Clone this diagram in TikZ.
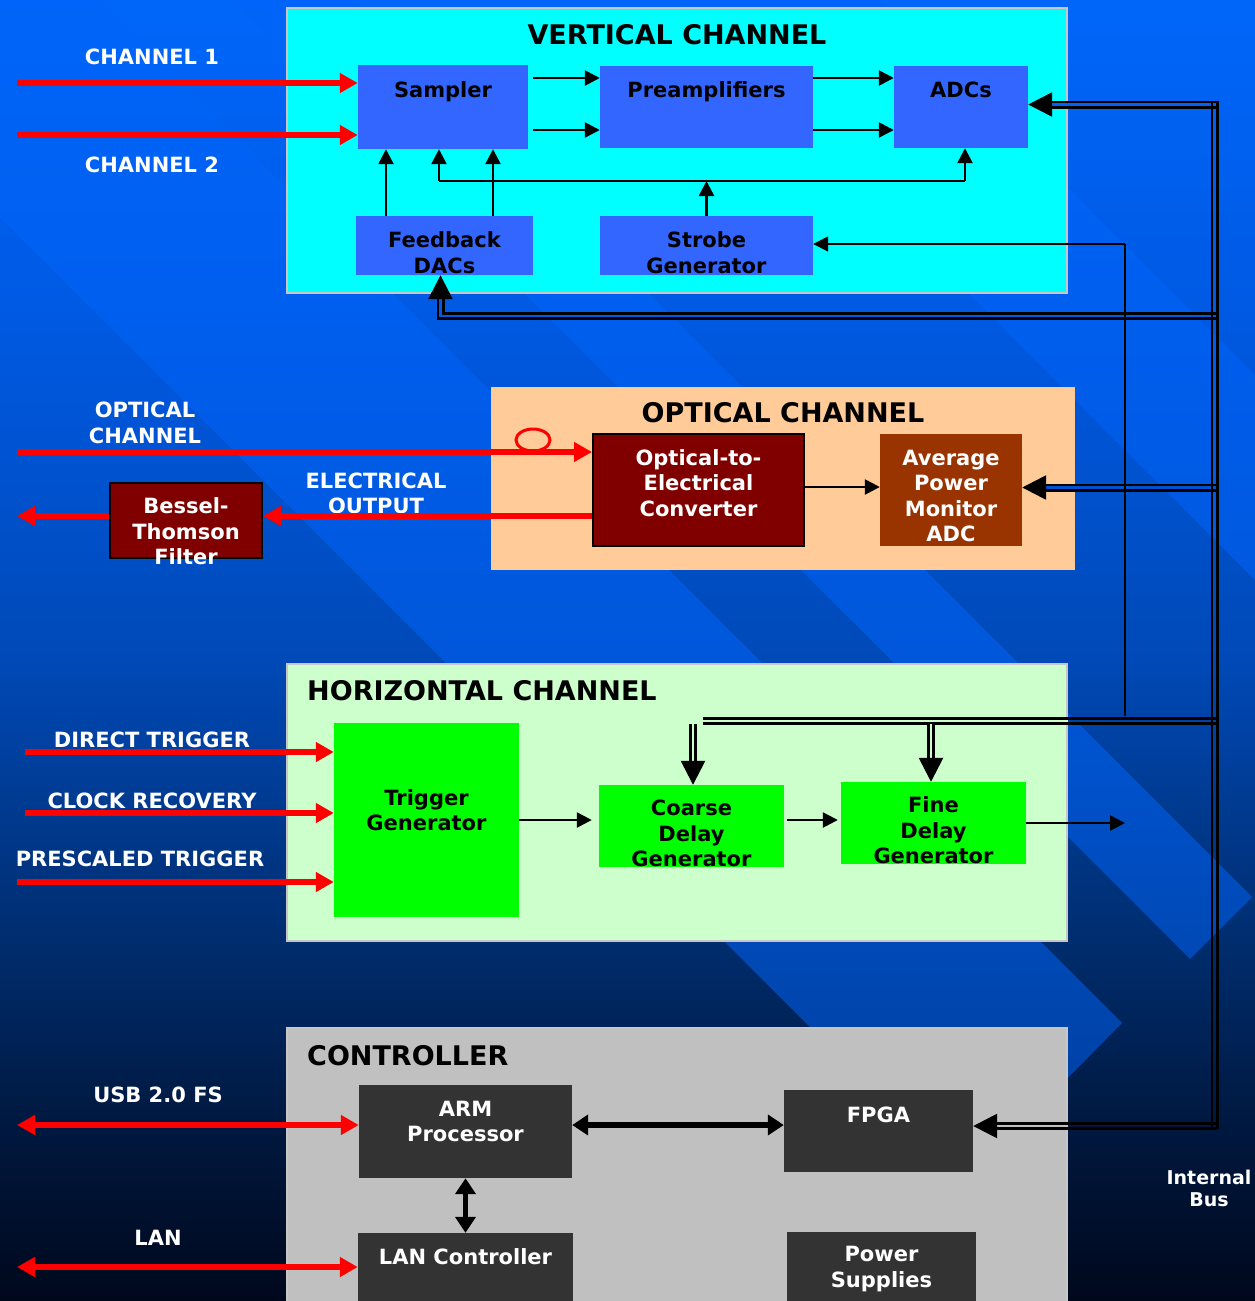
\documentclass[tikz,border=0pt]{standalone}
\usepackage{fontspec}
\setmainfont{DejaVu Sans}
\usepackage{tikz}
\usetikzlibrary{arrows.meta,positioning}

\definecolor{vchfill}{RGB}{0,255,255}
\definecolor{vblock}{RGB}{51,102,255}
\definecolor{ochfill}{RGB}{255,204,153}
\definecolor{maroonbox}{RGB}{128,0,0}
\definecolor{rustbox}{RGB}{153,51,0}
\definecolor{hchfill}{RGB}{204,255,204}
\definecolor{hblock}{RGB}{0,255,0}
\definecolor{ctrlfill}{RGB}{192,192,192}
\definecolor{cblock}{RGB}{51,51,51}
\definecolor{sigred}{RGB}{255,0,0}
\definecolor{stripeblue}{RGB}{0,100,250}
\definecolor{bgk0}{RGB}{0,8,28}
\definecolor{bgk1}{RGB}{0,25,65}
\definecolor{bgk2}{RGB}{0,44,108}
\definecolor{bgk3}{RGB}{0,74,185}
\definecolor{bgk4}{RGB}{0,90,228}
\definecolor{bgk5}{RGB}{0,102,250}
\definecolor{busa}{RGB}{0,99,248}
\definecolor{busb}{RGB}{0,91,230}
\definecolor{busc}{RGB}{0,82,206}
\definecolor{busd}{RGB}{0,67,167}
\definecolor{buse}{RGB}{0,24,64}

\pgfdeclareverticalshading{bgfade}{100bp}{color(0bp)=(bgk0); color(25bp)=(bgk0); color(32bp)=(bgk1); color(38.5bp)=(bgk2); color(50bp)=(bgk3); color(63.5bp)=(bgk4); color(75bp)=(bgk5); color(100bp)=(bgk5)}

\newcommand{\blkfont}{\fontsize{21}{25.5}\selectfont\bfseries}
\newcommand{\hdrfont}{\fontsize{27}{32}\selectfont\bfseries}
\newcommand{\smlfont}{\fontsize{19}{22}\selectfont\bfseries}

\tikzstyle{panel} = [rectangle, inner sep=0pt, draw=black!22, line width=2.5pt]
\tikzstyle{block} = [rectangle, inner sep=0pt]
\tikzstyle{lbl} = [font=\blkfont, align=center, inner sep=0pt]
\tikzstyle{extlbl} = [font=\blkfont, align=center, inner sep=0pt, text=white]
\tikzstyle{hdr} = [font=\hdrfont, inner sep=0pt]
\tikzstyle{sig} = [sigred, line width=5.5pt, -{Triangle[length=18pt,width=19pt]}]
\tikzstyle{sigboth} = [sigred, line width=5.5pt, {Triangle[length=18pt,width=19pt]}-{Triangle[length=18pt,width=19pt]}]
\tikzstyle{arrow} = [line width=2.5pt, -{Triangle[length=15pt,width=15pt]}]
\tikzstyle{wire} = [line width=2.5pt]
\tikzstyle{thinwire} = [line width=1.5pt]
\tikzstyle{thinarrow} = [line width=1.5pt, -{Triangle[length=15pt,width=15pt]}]
\tikzstyle{link} = [line width=5.5pt, {Triangle[length=16pt,width=20pt]}-{Triangle[length=16pt,width=20pt]}]
\tikzstyle{bustip} = [-{Triangle[length=24pt,width=24pt]}]
\tikzstyle{stripe} = [fill=stripeblue, fill opacity=0.52]
\tikzset{bus/.style={draw=black, line width=2.6pt, double=#1, double distance=2.8pt}}

\begin{document}
\begin{tikzpicture}[x=1pt,y=-1pt]
    \useasboundingbox (0,0) rectangle (1255,1301);
    \clip (0,0) rectangle (1255,1301);

    % background
    \shade[shading=bgfade] (0,0) rectangle (1255,1301);
    \fill[stripe] (-217,0) -- (99,0) -- (1122,1023) -- (965,1182) -- cycle;
    \fill[stripe] (231,0) -- (355,0) -- (1252,897) -- (1190,959) -- cycle;
    \fill[stripe] (675,0) -- (880,0) -- (1300,420) -- (1300,625) -- cycle;

    % vertical channel
    \node[panel, fill=vchfill, minimum width=780pt, minimum height=285pt] (vch) at (677,150.5) {};
    \node[hdr] (vch-title) at (677,35) {VERTICAL CHANNEL};
    \node[block, fill=vblock, minimum width=170pt, minimum height=84pt, label={[lbl, yshift=15.5pt]center:Sampler}] (sampler) at (443,107) {};
    \node[block, fill=vblock, minimum width=213pt, minimum height=82pt, label={[lbl, yshift=15.5pt]center:Preamplifiers}] (preamp) at (706.5,107) {};
    \node[block, fill=vblock, minimum width=134pt, minimum height=82pt, label={[lbl, yshift=17pt]center:ADCs}] (adcs) at (961,107) {};
    \node[block, fill=vblock, minimum width=177pt, minimum height=59pt, label={[lbl, yshift=-7pt]center:Feedback\\DACs}] (fbdacs) at (444.5,245.5) {};
    \node[block, fill=vblock, minimum width=213pt, minimum height=59pt, label={[lbl, yshift=-7pt]center:Strobe\\Generator}] (strobe) at (706.5,245.5) {};

    % optical channel
    \node[block, fill=ochfill, minimum width=584pt, minimum height=183pt] (och) at (783,478.5) {};
    \node[hdr] (och-title) at (783,413) {OPTICAL CHANNEL};
    \node[block, fill=maroonbox, draw=black, line width=2pt, minimum width=211pt, minimum height=112pt, label={[lbl, white, yshift=7pt]center:Optical-to-\\Electrical\\Converter}] (oec) at (698.5,490) {};
    \node[block, fill=rustbox, minimum width=142pt, minimum height=112pt, label={[lbl, white, yshift=-6pt]center:Average\\Power\\Monitor\\ADC}] (apm) at (951,490) {};
    \node[block, fill=maroonbox, draw=black, line width=2pt, minimum width=152pt, minimum height=75pt, label={[lbl, white, yshift=-11pt]center:Bessel-\\Thomson\\Filter}] (bessel) at (186,520.5) {};

    % horizontal channel
    \node[panel, fill=hchfill, minimum width=780pt, minimum height=277pt] (hch) at (677,802.5) {};
    \node[hdr, anchor=west] (hch-title) at (307,691) {HORIZONTAL CHANNEL};
    \node[block, fill=hblock, minimum width=185pt, minimum height=194pt, label={[lbl, yshift=10pt]center:Trigger\\Generator}] (trig) at (426.5,820) {};
    \node[block, fill=hblock, minimum width=185pt, minimum height=82pt, label={[lbl, yshift=-7.5pt]center:Coarse\\Delay\\Generator}] (coarse) at (691.5,826) {};
    \node[block, fill=hblock, minimum width=185pt, minimum height=82pt, label={[lbl, yshift=-7.5pt]center:Fine\\Delay\\Generator}] (fine) at (933.5,823) {};

    % controller
    \node[panel, fill=ctrlfill, minimum width=780pt, minimum height=312pt] (ctrl) at (677,1184) {};
    \node[hdr, anchor=west] (ctrl-title) at (307,1056) {CONTROLLER};
    \node[block, fill=cblock, minimum width=213pt, minimum height=93pt, label={[lbl, white, yshift=10pt]center:ARM\\Processor}] (arm) at (465.5,1131.5) {};
    \node[block, fill=cblock, minimum width=189pt, minimum height=82pt, label={[lbl, white, yshift=16.5pt]center:FPGA}] (fpga) at (878.5,1131) {};
    \node[block, fill=cblock, minimum width=215pt, minimum height=97pt, label={[lbl, white, yshift=24.5pt]center:LAN Controller}] (lanc) at (465.5,1281.5) {};
    \node[block, fill=cblock, minimum width=189pt, minimum height=98pt, label={[lbl, white, yshift=12pt]center:Power\\Supplies}] (psu) at (881.5,1281) {};

    % outside labels
    \node[extlbl] (ch1-lbl) at (152,57) {CHANNEL 1};
    \node[extlbl] (ch2-lbl) at (152,165) {CHANNEL 2};
    \node[extlbl] (opt-lbl) at (145,423) {OPTICAL\\CHANNEL};
    \node[extlbl] (elec-lbl) at (376,493.5) {ELECTRICAL\\OUTPUT};
    \node[extlbl] (dt-lbl) at (152,740) {DIRECT TRIGGER};
    \node[extlbl] (cr-lbl) at (152,801) {CLOCK RECOVERY};
    \node[extlbl] (pt-lbl) at (140,859) {PRESCALED TRIGGER};
    \node[extlbl] (usb-lbl) at (158,1095) {USB 2.0 FS};
    \node[extlbl] (lan-lbl) at (158,1238) {LAN};
    \node[white, font=\smlfont, align=center, inner sep=0pt] (bus-lbl) at (1209,1188) {Internal\\Bus};

    % free ends
    \coordinate (ch1-in) at (17,83);
    \coordinate (ch2-in) at (17,135);
    \coordinate (opt-in) at (17,452);
    \coordinate (elec-out) at (17,516);
    \coordinate (dt-in) at (25,752);
    \coordinate (cr-in) at (25,813);
    \coordinate (pt-in) at (17,882);
    \coordinate (usb-out) at (17,1125);
    \coordinate (lan-out) at (17,1267);
    \coordinate (strobe-bus) at (706.5,181);
    \coordinate (clk-top) at (1125,244);
    \coordinate (clk-bot) at (1125,716);
    \coordinate (fine-out) at (1125,823);
    \coordinate (bus-adc) at (1217,104.5);
    \coordinate (bus-fb) at (1217,316);
    \coordinate (bus-apm) at (1217,487.5);
    \coordinate (bus-hch) at (1217,721);
    \coordinate (bus-fpga) at (1217,1126);
    \coordinate (hbus-end) at (703,721);
    \coordinate (hbus-drop) at (0,724);

    % red signals
    \draw[sig] (ch1-in) -- (ch1-in -| sampler.west);
    \draw[sig] (ch2-in) -- (ch2-in -| sampler.west);
    \draw[sig] (opt-in) -- (opt-in -| oec.west);
    \draw[sigred, line width=3pt] (533,440) ellipse (17pt and 11pt);
    \draw[sig] (elec-out -| oec.west) -- (elec-out -| bessel.east);
    \draw[sig] (elec-out -| bessel.west) -- (elec-out);
    \draw[sig] (dt-in) -- (dt-in -| trig.west);
    \draw[sig] (cr-in) -- (cr-in -| trig.west);
    \draw[sig] (pt-in) -- (pt-in -| trig.west);
    \draw[sigboth] (usb-out) -- (usb-out -| arm.west);
    \draw[sigboth] (lan-out) -- (lan-out -| lanc.west);

    % vertical channel links
    \draw[arrow] ([xshift=5pt,yshift=29pt]sampler.east) -- ([yshift=29pt]preamp.west);
    \draw[arrow] ([xshift=5pt,yshift=-23pt]sampler.east) -- ([yshift=-23pt]preamp.west);
    \draw[arrow] ([yshift=29pt]preamp.east) -- ([yshift=29pt]adcs.west);
    \draw[arrow] ([yshift=-23pt]preamp.east) -- ([yshift=-23pt]adcs.west);
    \draw[arrow] ([xshift=-58.5pt]fbdacs.north) -- ([xshift=-58.5pt]fbdacs.north |- sampler.south);
    \draw[arrow] ([xshift=48.5pt]fbdacs.north) -- ([xshift=48.5pt]fbdacs.north |- sampler.south);
    \draw[arrow] (strobe.north) -- (strobe-bus);
    \draw[wire] ([xshift=-4pt]sampler.south |- strobe-bus) -- ([xshift=4pt]adcs.south |- strobe-bus);
    \draw[arrow] ([xshift=-4pt]sampler.south |- strobe-bus) -- ([xshift=-4pt]sampler.south);
    \draw[arrow] ([xshift=4pt]adcs.south |- strobe-bus) -- ([xshift=4pt]adcs.south);

    % optical and horizontal links
    \draw[arrow] ([yshift=3pt]oec.east) -- ([yshift=3pt]apm.west);
    \draw[arrow] (trig.east) -- ([xshift=-7pt]trig.east -| coarse.west);
    \draw[arrow] ([xshift=3pt,yshift=6pt]coarse.east) -- ([xshift=-3pt,yshift=6pt]coarse.east -| fine.west);
    \draw[arrow] (fine.east) -- (fine-out);

    % controller links
    \draw[link] ([yshift=6.5pt]arm.east) -- ([yshift=6.5pt]arm.east -| fpga.west);
    \draw[link] (arm.south) -- (arm.south |- lanc.north);

    % internal bus
    \draw[bus=busa, bustip] (bus-adc) -- (bus-adc -| adcs.east);
    \draw[bus=busb, bustip] (bus-fb) -- ([xshift=-4pt]fbdacs.south |- bus-fb) -- ([xshift=-4pt]fbdacs.south);
    \draw[bus=busc, bustip] (bus-apm) -- (bus-apm -| apm.east);
    \draw[bus=busd] (bus-hch) -- (bus-hch -| hch.east);
    \draw[bus=hchfill] (bus-hch -| hch.east) -- (hbus-end);
    \draw[bus=hchfill, bustip] ([xshift=1.5pt]coarse.north |- hbus-drop) -- ([xshift=1.5pt]coarse.north);
    \draw[bus=hchfill, bustip] ([xshift=-2.5pt]fine.north |- hbus-drop) -- ([xshift=-2.5pt]fine.north);
    \draw[bus=buse] (bus-fpga) -- (bus-fpga -| ctrl.east);
    \draw[bus=ctrlfill, bustip] (bus-fpga -| ctrl.east) -- (bus-fpga -| fpga.east);
    \draw[line width=2.6pt] (1212,101) -- (1212,1128.5);
    \draw[line width=2.6pt] (1217.5,101) -- (1217.5,1128.5);

    % strobe clock feed
    \draw[thinarrow] (clk-top) -- (clk-top -| strobe.east);
    \draw[thinwire] (clk-top) -- (clk-bot);

  \end{tikzpicture}
\end{document}
